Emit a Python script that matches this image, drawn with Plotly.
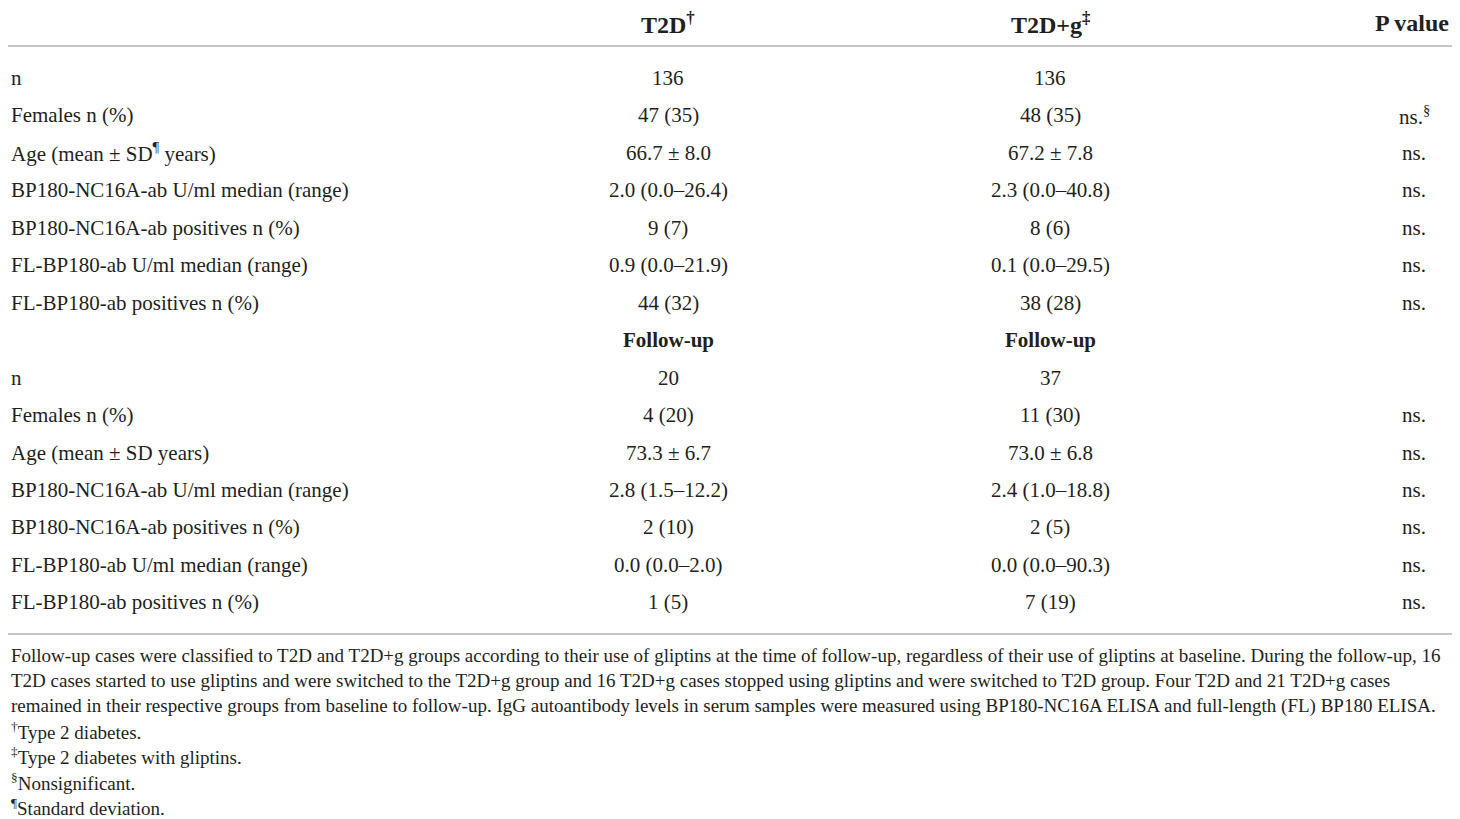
import plotly.graph_objects as go

# table content
header = ["", "T2D<sup>†</sup>", "T2D+g<sup>‡</sup>", "P value"]
row_labels = [
    "n", "Females n (%)", "Age (mean ± SD<sup>¶</sup> years)",
    "BP180-NC16A-ab U/ml median (range)", "BP180-NC16A-ab positives n (%)",
    "FL-BP180-ab U/ml median (range)", "FL-BP180-ab positives n (%)",
    "",
    "n", "Females n (%)", "Age (mean ± SD years)",
    "BP180-NC16A-ab U/ml median (range)", "BP180-NC16A-ab positives n (%)",
    "FL-BP180-ab U/ml median (range)", "FL-BP180-ab positives n (%)",
]
t2d_values = [
    "136", "47 (35)", "66.7 ± 8.0", "2.0 (0.0–26.4)", "9 (7)", "0.9 (0.0–21.9)", "44 (32)",
    "<b>Follow-up</b>",
    "20", "4 (20)", "73.3 ± 6.7", "2.8 (1.5–12.2)", "2 (10)", "0.0 (0.0–2.0)", "1 (5)",
]
t2dg_values = [
    "136", "48 (35)", "67.2 ± 7.8", "2.3 (0.0–40.8)", "8 (6)", "0.1 (0.0–29.5)", "38 (28)",
    "<b>Follow-up</b>",
    "37", "11 (30)", "73.0 ± 6.8", "2.4 (1.0–18.8)", "2 (5)", "0.0 (0.0–90.3)", "7 (19)",
]
p_values = [
    "", "ns.<sup>§</sup>", "ns.", "ns.", "ns.", "ns.", "ns.",
    "",
    "", "ns.", "ns.", "ns.", "ns.", "ns.", "ns.",
]
footnotes = [
    "Follow-up cases were classified to T2D and T2D+g groups according to their use of gliptins at the time of follow-up, regardless of their use of gliptins at baseline. During the follow-up, 16",
    "T2D cases started to use gliptins and were switched to the T2D+g group and 16 T2D+g cases stopped using gliptins and were switched to T2D group. Four T2D and 21 T2D+g cases",
    "remained in their respective groups from baseline to follow-up. IgG autoantibody levels in serum samples were measured using BP180-NC16A ELISA and full-length (FL) BP180 ELISA.",
    "<sup>†</sup>Type 2 diabetes.",
    "<sup>‡</sup>Type 2 diabetes with gliptins.",
    "<sup>§</sup>Nonsignificant.",
    "<sup>¶</sup>Standard deviation.",
]

FONT = "Liberation Serif"
TXT = "#231f20"
W, H = 1460, 819
OFF = 8  # page body margin
X1 = W - OFF  # visible right edge

col_x = [OFF + 1, 668, 1050, 1414]
header_y = 23
row_y0, row_dy = 78, 37.45
foot_y0, foot_dy = 655, 25.3

fig = go.Figure()
ann = []

for j, h in enumerate(header):
    if not h:
        continue
    if j == 3:
        ann.append(dict(x=X1 - 1, y=header_y, text="<b>" + h + "</b>", xanchor="right",
                        font=dict(size=24, family=FONT, color=TXT)))
    else:
        ann.append(dict(x=col_x[j], y=header_y, text="<b>" + h + "</b>", xanchor="center",
                        font=dict(size=24, family=FONT, color=TXT)))

for i in range(len(row_labels)):
    y = row_y0 + i * row_dy
    cells = [row_labels[i], t2d_values[i], t2dg_values[i], p_values[i]]
    for j, c in enumerate(cells):
        if not c:
            continue
        ann.append(dict(x=col_x[j], y=y, text=c, xanchor="left" if j == 0 else "center",
                        font=dict(size=21, family=FONT, color=TXT)))

for k, f in enumerate(footnotes):
    ann.append(dict(x=OFF + 1, y=foot_y0 + k * foot_dy, text=f, xanchor="left",
                    font=dict(size=19, family=FONT, color=TXT)))

for a in ann:
    a.update(xref="x", yref="y", yanchor="middle", showarrow=False)

shapes = [
    dict(type="line", xref="x", yref="y", x0=OFF, x1=X1, y0=46, y1=46,
         line=dict(color="#b3b3b3", width=1.5)),
    dict(type="line", xref="x", yref="y", x0=OFF, x1=X1, y0=634, y1=634,
         line=dict(color="#b3b3b3", width=1.5)),
]

fig.update_layout(
    width=X1 - OFF, height=H - OFF,
    margin=dict(l=0, r=0, t=0, b=0),
    paper_bgcolor="white", plot_bgcolor="white",
    xaxis=dict(range=[OFF, X1], visible=False, fixedrange=True),
    yaxis=dict(range=[H, OFF], visible=False, fixedrange=True),
    annotations=ann, shapes=shapes, showlegend=False,
)

fig.write_html("out.html")
